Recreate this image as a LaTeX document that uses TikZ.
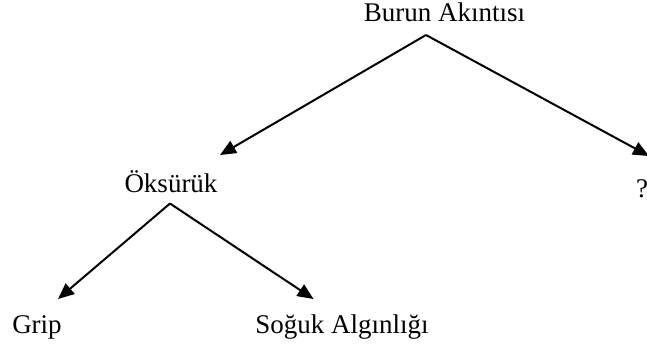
\documentclass[tikz,border=0pt]{standalone}
\usepackage{fontspec}
\setmainfont{Liberation Serif}
\usetikzlibrary{arrows.meta}
\begin{document}
\begin{tikzpicture}[x=0.5pt,y=-0.5pt,
  lbl/.style={anchor=base,inner sep=0pt,font=\fontsize{13.5}{16}\selectfont},
  arr/.style={line width=1pt,-{Triangle[length=8pt,width=6.8pt]}}]
\useasboundingbox (0,0) rectangle (647,349);
\node[lbl] (b) at (444.5,21) {Burun Akıntısı};
\node[lbl] (o) at (171,192) {Öksürük};
\node[lbl] (q) at (642,197) {?};
\node[lbl] (g) at (37,333) {Grip};
\node[lbl] (s) at (342,333) {Soğuk Algınlığı};
\coordinate (bout) at (426,35);
\coordinate (oin) at (220,155);
\coordinate (qin) at (649,156);
\coordinate (oout) at (170,203.5);
\coordinate (gin) at (58,299);
\coordinate (sin) at (313.5,299);
\draw[arr] (bout) -- (oin);
\draw[arr] (bout) -- (qin);
\draw[arr] (oout) -- (gin);
\draw[arr] (oout) -- (sin);
\end{tikzpicture}
\end{document}
